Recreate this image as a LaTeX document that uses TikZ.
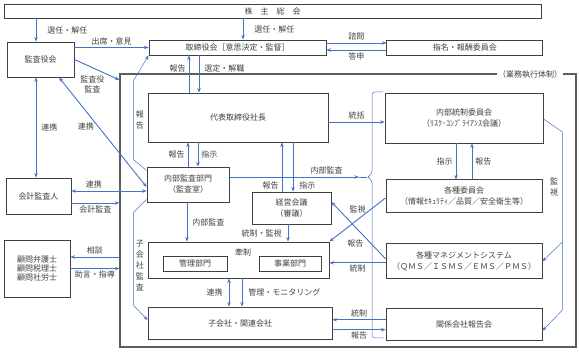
\documentclass[tikz,border=0pt]{standalone}
\usepackage{fontspec}
\setmainfont{Noto Sans CJK JP}
\usepackage{tikz}
\usetikzlibrary{positioning,arrows.meta}

\definecolor{linkblue}{HTML}{4472C4}
\definecolor{inkgray}{HTML}{404040}

\begin{document}
\begin{tikzpicture}[
  x=1pt, y=-1pt,
  font=\fontsize{8}{11}\selectfont, text=inkgray,
  box/.style={draw=inkgray, line width=0.9pt, fill=white, align=center, inner sep=1pt},
  frame/.style={draw=inkgray!85, line width=1.2pt},
  link/.style={draw=linkblue, line width=0.9pt},
  thinlink/.style={draw=linkblue, line width=0.5pt},
  lbl/.style={inner sep=2pt, font=\fontsize{8}{10}\selectfont},
  vlbl/.style={inner sep=1pt, align=center, font=\fontsize{8}{11}\selectfont},
  >={Stealth[length=4.5pt,width=3.5pt]}
]
\useasboundingbox (0,0) rectangle (579,352);

% governance
\node[box, minimum width=537pt, minimum height=14pt] (gm) at (272.5,11) {株　主　総　会};
\node[box, minimum width=67pt, minimum height=35pt] (kansa) at (40.5,59.5) {監査役会};
\node[box, minimum width=177pt, minimum height=15pt] (board) at (237.5,47.5) {取締役会［意思決定・監督］};
\node[box, minimum width=156pt, minimum height=15pt, right=60pt of board] (nomi) {指名・報酬委員会};

% execution frame
\node[frame, minimum width=456pt, minimum height=273pt] (exec) at (348,210.5) {};
\node[fill=white, inner sep=1pt] (execlbl) at (530,74) {（業務執行体制）};

\node[box, minimum width=180pt, minimum height=49pt] (ceo) at (238,117.5) {代表取締役社長};
\node[box, minimum width=82pt, minimum height=35pt] (audit) at (188,184.5) {内部監査部門\\（監査室）};
\node[box, minimum width=79pt, minimum height=32pt] (mgmt) at (291.5,208) {経営会議\\（審議）};
\node[box, minimum width=181pt, minimum height=36pt] (kensei) at (238.5,260) {};
\node[lbl] (kenseilbl) at (243,252) {牽制};
\node[box, minimum width=64pt, minimum height=15pt] (kanri) at (195,263.5) {管理部門};
\node[box, minimum width=62pt, minimum height=15pt] (jigyo) at (290,263.5) {事業部門};
\node[box, minimum width=184pt, minimum height=32pt] (sub) at (240,323) {子会社・関連会社};

\node[box, minimum width=158pt, minimum height=50pt] (ic) at (464,118) {内部統制委員会\\（ﾘｽｸ･ｺﾝﾌﾟﾗｲｱﾝｽ会議）};
\node[box, minimum width=156pt, minimum height=33pt, below=36pt of ic] (comm) {各種委員会\\（情報ｾｷｭﾘﾃｨ／品質／安全衛生等）};
\node[box, minimum width=156pt, minimum height=35pt, below=30pt of comm] (ms) {各種マネジメントシステム\\（ＱＭＳ／ＩＳＭＳ／ＥＭＳ／ＰＭＳ）};
\node[box, minimum width=156pt, minimum height=32pt, below=29pt of ms] (rep) {関係会社報告会};

% outside parties
\node[box, minimum width=65pt, minimum height=36pt] (acct) at (38.5,196) {会計監査人};
\node[box, minimum width=66pt, minimum height=57pt, font=\fontsize{8}{9}\selectfont] (adv) at (37,268.5) {顧問弁護士\\顧問税理士\\顧問社労士};

% brace round the committees
\coordinate (bracetip) at (367,177);
\coordinate (auditmark) at (359,177);
\draw[thinlink, rounded corners=3pt] (383,92) -- (372,92) -- (372,174) -- (bracetip) -- (372,180) -- (372,338) -- (384,338);

% arrows
\draw[link,->] ([xshift=-4.5pt]kansa.north |- gm.south) -- node[lbl, right=9pt]{選任・解任} ([xshift=-4.5pt]kansa.north);
\draw[link,->] ([xshift=5.5pt]board.north |- gm.south) -- node[lbl, right=9pt]{選任・解任} ([xshift=5.5pt]board.north);
\draw[link,->] (kansa.east |- board.west) -- node[lbl, above]{出席・意見} (board.west);
\draw[link,->] ([yshift=4.5pt]board.east) -- node[lbl, above]{諮問} ([yshift=4.5pt]board.east -| nomi.west);
\draw[link,->] ([yshift=-2.5pt]nomi.west) -- node[lbl, below]{答申} ([yshift=-2.5pt]nomi.west -| board.east);
\draw[link,->] (kansa.east) -- node[lbl, pos=0.4, below=6pt, align=center]{監査役\\監査} ([yshift=-6.5pt]exec.north west);

\draw[thinlink,->] ([yshift=-4pt]audit.north west) -- ++(-13,-11) -- node[vlbl, right=1pt]{報\\告} ++(0,-79) -- (board.south west);
\draw[thinlink,->] ([yshift=3pt]audit.south west) -- ++(-13,13) -- node[vlbl, right=1pt, pos=0.57]{子\\会\\社\\監\\査} ++(0,93) -- ([yshift=3pt]sub.west);

\draw[link,->] ([xshift=-49pt]ceo.north) -- node[lbl, left=1pt, pos=0.65]{報告} ([xshift=-49pt]ceo.north |- board.south);
\draw[link,->] ([xshift=-39pt]ceo.north |- board.south) -- node[lbl, right=3pt, pos=0.35]{選定・解職} ([xshift=-39pt]ceo.north);
\draw[link,->] (audit.north) -- node[lbl, left=1pt]{報告} (audit.north |- ceo.south);
\draw[link,->] ([xshift=10pt]audit.north |- ceo.south) -- node[lbl, right=1pt]{指示} ([xshift=10pt]audit.north);
\draw[link,->] ([xshift=-9.5pt]mgmt.north) -- node[lbl, left=1pt, pos=0.12]{報告} ([xshift=-9.5pt]mgmt.north |- ceo.south);
\draw[link,->] ([xshift=1.5pt]mgmt.north |- ceo.south) -- node[lbl, right=4pt, pos=0.88]{指示} ([xshift=1.5pt]mgmt.north);

\draw[link,->] ([yshift=7.5pt]audit.east) -- node[lbl, above, pos=0.75]{内部監査} (auditmark);
\draw[link] (auditmark) -- (bracetip);
\draw[link,->] ([yshift=-4.5pt]ceo.east) -- node[lbl, above]{統括} ([yshift=-4.5pt]ceo.east -| ic.west);
\draw[link,->] ([xshift=-8pt]ic.south) -- node[lbl, left=1pt]{指示} ([xshift=-8pt]ic.south |- comm.north);
\draw[link,->] ([xshift=8pt]ic.south |- comm.north) -- node[lbl, right=1pt]{報告} ([xshift=8pt]ic.south);

\draw[thinlink] ([yshift=-1pt]ic.east) -- ++(19,13) -- node[vlbl, left=3pt]{監\\視} ++(0,110) coordinate (watchfork);
\draw[thinlink,->] (watchfork) -- (ms.east);
\draw[thinlink,->] (watchfork) -- ++(0,68) -- ([yshift=-6pt]rep.east);

\draw[link,->] ([yshift=-1.5pt]comm.west) -- node[lbl, pos=0.5, above=4pt]{監視} (kensei.north east);
\draw[link,->] ([yshift=2.5pt]ms.west) -- node[lbl, pos=0.56, below=10pt]{報告} ([yshift=6pt]mgmt.east);
\draw[link,->] ([yshift=-1.5pt]ms.west) -- node[lbl, below]{統制} ([yshift=-1.5pt]ms.west -| kensei.east);
\draw[link,->] ([yshift=5pt]rep.west) -- node[lbl, above]{統制} ([yshift=5pt]rep.west -| sub.east);
\draw[link,->] ([yshift=-5pt]rep.west -| sub.east) -- node[lbl, below]{報告} ([yshift=-5pt]rep.west);

\draw[link,->] ([xshift=-3.5pt]mgmt.south) -- node[lbl, left=4pt]{統制・監視} ([xshift=-3.5pt]mgmt.south |- kensei.north);
\draw[link,->] ([xshift=-1pt]audit.south) -- node[lbl, right=3pt]{内部監査} ([xshift=-1pt]audit.south |- kensei.north);
\draw[link,<->] ([xshift=-9.5pt]kensei.south) -- node[lbl, left=4pt]{連携} ([xshift=-9.5pt]kensei.south |- sub.north);
\draw[link,->] ([xshift=3.5pt]kensei.south) -- node[lbl, right=4pt]{管理・モニタリング} ([xshift=3.5pt]kensei.south |- sub.north);

\draw[link,<->] ([xshift=-2.5pt]acct.north) -- node[lbl, right=3pt]{連携} ([xshift=-2.5pt]acct.north |- kansa.south);
\draw[link,<->] ([xshift=18.5pt]kansa.south) -- node[lbl, pos=0.45, left=2pt]{連携} ([yshift=-2.5pt]audit.west);
\draw[link,<->] ([yshift=5pt]acct.east) -- node[lbl, above, pos=0.3]{連携} ([yshift=5pt]acct.east -| audit.west);
\draw[link,->] ([yshift=-7pt]acct.east) -- node[lbl, below]{会計監査} ([yshift=-7pt]acct.east -| exec.west);
\draw[link,->] ([yshift=11.5pt]adv.east -| exec.west) -- node[lbl, above]{相談} ([yshift=11.5pt]adv.east);
\draw[link,->] (adv.east) -- node[lbl, below]{助言・指導} (adv.east -| exec.west);
\end{tikzpicture}
\end{document}
